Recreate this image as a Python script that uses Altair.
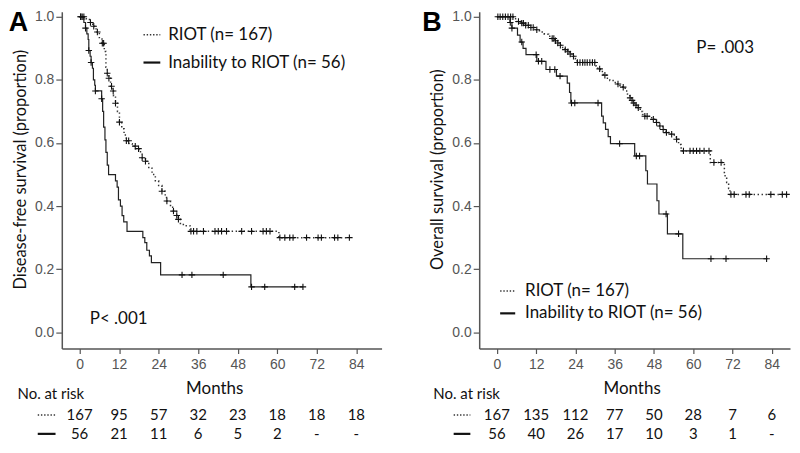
import altair as alt
import pandas as pd

MONTHS = [0, 12, 24, 36, 48, 60, 72, 84]

# ---------------- Panel A : disease-free survival ----------------
A_RIOT_T = [0, 2.0, 3.0, 4.0, 5.0, 6.0, 6.8, 7.5, 8.0, 8.4, 8.9, 9.4, 9.8, 10.3, 10.9, 11.5, 12.1,
            12.8, 13.5, 14.2, 15.0, 16.0, 17.0, 18.0, 19.0, 20.0, 21.0, 22.0, 23.0, 24.0, 25.0, 26.0,
            26.4, 27.6, 28.5, 29.5, 30.0, 30.6, 31.5, 33.5, 60.5]
A_RIOT_S = [1.0, 0.994, 0.982, 0.970, 0.952, 0.930, 0.916, 0.890, 0.840, 0.821, 0.805, 0.780, 0.765,
            0.750, 0.726, 0.700, 0.666, 0.645, 0.625, 0.607, 0.598, 0.590, 0.582, 0.572, 0.553, 0.542,
            0.520, 0.500, 0.480, 0.465, 0.447, 0.430, 0.416, 0.396, 0.384, 0.370, 0.358, 0.345, 0.338,
            0.320, 0.300]
A_RIOT_END = 82.0
A_RIOT_CENS = [0.3, 0.8, 1.3, 3.3, 4.3, 5.4, 6.9, 7.3, 8.4, 8.9, 9.7, 10.2, 10.9, 12.1, 14.2, 14.9,
               16.9, 17.9, 19.0, 20.0, 25.0, 26.5, 28.5, 29.5, 30.0, 33.8, 34.6, 35.6, 37.6, 41.1,
               42.1, 43.1, 44.6, 49.2, 52.2, 55.7, 56.7, 57.8, 60.8, 62.3, 63.8, 64.8, 68.9, 72.4,
               73.4, 77.4, 78.4, 81.9]

A_INAB_T = [0, 1.3, 1.8, 2.2, 2.6, 2.8, 3.2, 3.5, 3.9, 4.2, 4.6, 4.8, 6.7, 7.0, 7.3, 7.7, 8.0, 8.4,
            8.8, 10.9, 11.4, 11.8, 12.4, 12.9, 13.4, 14.4, 19.2, 19.8, 20.4, 21.2, 21.8, 24.6, 52.0]
A_INAB_S = [1.0, 0.982, 0.964, 0.946, 0.928, 0.893, 0.875, 0.855, 0.837, 0.800, 0.783, 0.765, 0.740,
            0.700, 0.650, 0.610, 0.570, 0.530, 0.500, 0.480, 0.460, 0.420, 0.400, 0.370, 0.350, 0.320,
            0.300, 0.284, 0.260, 0.242, 0.221, 0.182, 0.144]
A_INAB_END = 67.8
A_INAB_CENS = [0.4, 1.8, 2.8, 3.5, 4.8, 6.7, 31.1, 34.1, 43.6, 52.2, 56.2, 65.3, 67.8]

A_RISK_RIOT = ["167", "95", "57", "32", "23", "18", "18", "18"]
A_RISK_INAB = ["56", "21", "11", "6", "5", "2", "-", "-"]

# ---------------- Panel B : overall survival ----------------
B_RIOT_T = [0, 5.0, 6.0, 7.5, 8.5, 10.0, 11.5, 13.0, 14.5, 15.8, 16.7, 17.7, 18.5, 19.3, 20.1, 20.8,
            21.6, 22.3, 23.3, 24.0, 24.5, 30.2, 30.8, 31.6, 32.5, 33.5, 34.5, 35.5, 36.5, 37.5, 38.5,
            39.2, 39.9, 40.6, 41.2, 41.6, 42.4, 43.1, 43.8, 44.5, 45.1, 46.5, 47.7, 48.7, 49.7, 50.7,
            51.7, 53.3, 54.2, 54.8, 55.5, 56.3, 65.2, 69.5, 70.2, 70.8, 71.2]
B_RIOT_S = [1.0, 0.994, 0.985, 0.980, 0.973, 0.966, 0.959, 0.952, 0.945, 0.938, 0.931, 0.924, 0.917,
            0.910, 0.903, 0.896, 0.889, 0.882, 0.875, 0.866, 0.855, 0.845, 0.835, 0.827, 0.815, 0.805,
            0.798, 0.792, 0.787, 0.782, 0.777, 0.765, 0.755, 0.743, 0.735, 0.727, 0.720, 0.712, 0.700,
            0.690, 0.685, 0.680, 0.675, 0.665, 0.654, 0.643, 0.633, 0.628, 0.620, 0.612, 0.595, 0.575,
            0.538, 0.496, 0.475, 0.456, 0.437]
B_RIOT_END = 88.5
B_RIOT_CENS = [0.3, 1.0, 1.8, 2.6, 3.4, 4.2, 4.9, 6.6, 7.6, 8.1, 8.8, 9.6, 10.4, 11.1, 12.2, 16.9,
               17.4, 17.9, 18.6, 19.4, 20.9, 21.7, 22.4, 23.4, 24.6, 25.4, 26.2, 26.9, 27.6, 28.4,
               29.2, 29.9, 31.4, 33.0, 37.0, 38.6, 40.7, 41.3, 41.8, 42.5, 43.2, 45.2, 45.9, 47.8,
               48.8, 49.8, 50.8, 51.8, 53.4, 54.9, 57.0, 59.0, 60.0, 61.0, 62.0, 63.3, 64.8, 66.3,
               68.5, 71.5, 72.5, 76.1, 77.1, 83.7, 87.2, 88.5]

B_INAB_T = [0, 4.0, 4.6, 6.3, 7.1, 8.0, 8.9, 12.2, 15.0, 18.2, 21.5, 22.2, 22.6, 32.0, 32.5, 33.2,
            34.0, 34.7, 42.1, 45.5, 46.0, 48.9, 49.5, 52.1, 56.8]
B_INAB_S = [1.0, 0.982, 0.964, 0.942, 0.920, 0.900, 0.880, 0.859, 0.833, 0.812, 0.790, 0.760, 0.727,
            0.685, 0.664, 0.643, 0.620, 0.598, 0.559, 0.512, 0.470, 0.417, 0.375, 0.312, 0.233]
B_INAB_END = 82.7
B_INAB_CENS = [4.1, 4.6, 7.6, 12.0, 12.7, 13.7, 16.2, 17.7, 19.3, 22.8, 23.8, 30.9, 37.5, 42.6, 43.6,
               51.7, 55.5, 65.4, 70.0, 82.4]

B_RISK_RIOT = ["167", "135", "112", "77", "50", "28", "7", "6"]
B_RISK_INAB = ["56", "40", "26", "17", "10", "3", "1", "-"]

LEGEND_LABELS = ["RIOT (n= 167)", "Inability to RIOT (n= 56)"]

# ---------------- helpers ----------------
TXT = "Lato"
NUM = "Liberation Sans"
Y0, Y1 = -0.0515, 1.0158
H = 338
PLUS = "M-1,0L1,0M0,-1L0,1"
ROW_HDR, ROW_1, ROW_2 = -0.196, -0.262, -0.322


def surv_at(ts, ss, t):
    v = ss[0]
    for ti, si in zip(ts, ss):
        if ti <= t + 1e-9:
            v = si
        else:
            break
    return v


def curve_df(ts, ss, end):
    return pd.DataFrame({"t": list(ts) + [end], "s": list(ss) + [ss[-1]]})


def cens_df(ts, ss, cens):
    return pd.DataFrame({"t": cens, "s": [surv_at(ts, ss, c) for c in cens]})


def panel(width, xmax, ytitle, riot, inab, risk_riot, risk_inab, letter, letter_x,
          pval, pval_xy, leg, marker_x, hdr_x):
    xs = alt.Scale(domain=[-5.4, xmax], nice=False, zero=False)
    ys = alt.Scale(domain=[Y0, Y1], nice=False, zero=False)

    xaxis = alt.Axis(values=MONTHS, title="Months", grid=False, tickSize=5, labelPadding=4,
                     titlePadding=9, titleX=153, labelFont=NUM, labelFontSize=14, labelColor="#555",
                     titleFont=TXT, titleFontSize=17, titleFontWeight="normal", titleColor="#111",
                     domainColor="#555", domainWidth=1.5, tickColor="#555", tickWidth=1.2)
    yaxis = alt.Axis(values=[0, 0.2, 0.4, 0.6, 0.8, 1.0], format=".1f", title=ytitle, grid=False,
                     tickSize=6, labelPadding=2, titlePadding=6, titleY=158, labelFont=NUM,
                     labelFontSize=14, labelColor="#555", titleFont=TXT, titleFontSize=16.5,
                     titleFontWeight="normal", titleColor="#111", domainColor="#555",
                     domainWidth=1.5, tickColor="#555", tickWidth=1.2)

    def X(f):
        return alt.X(f, type="quantitative", scale=xs, axis=xaxis)

    def Y(f):
        return alt.Y(f, type="quantitative", scale=ys, axis=yaxis)

    rt, rs, rend, rc = riot
    it, is_, iend, ic = inab

    riot_line = alt.Chart(curve_df(rt, rs, rend)).mark_line(
        interpolate="step-after", color="#333", strokeWidth=1.5, strokeDash=[1.4, 2.6]
    ).encode(x=X("t"), y=Y("s"))
    inab_line = alt.Chart(curve_df(it, is_, iend)).mark_line(
        interpolate="step-after", color="#222", strokeWidth=1.2
    ).encode(x=X("t"), y=Y("s"))
    cens = alt.Chart(pd.concat([cens_df(rt, rs, rc), cens_df(it, is_, ic)])).mark_point(
        shape=PLUS, size=42, filled=False, strokeWidth=1.1, color="#111", opacity=1
    ).encode(x=X("t"), y=Y("s"))

    # legend
    lx1, lx2, ly1, ly2, ltx = leg
    leg_dot = alt.Chart(pd.DataFrame({"t": [lx1], "t2": [lx2], "s": [ly1]})).mark_rule(
        color="#333", strokeWidth=1.5, strokeDash=[1.4, 1.8]).encode(x=X("t"), x2="t2", y=Y("s"))
    leg_sol = alt.Chart(pd.DataFrame({"t": [lx1], "t2": [lx2], "s": [ly2]})).mark_rule(
        color="#111", strokeWidth=2.2).encode(x=X("t"), x2="t2", y=Y("s"))
    leg_txt = alt.Chart(pd.DataFrame({"t": [ltx, ltx], "s": [ly1, ly2], "label": LEGEND_LABELS})).mark_text(
        align="left", baseline="middle", font=TXT, fontSize=17, color="#111"
    ).encode(x=X("t"), y=Y("s"), text="label:N")

    ptxt = alt.Chart(pd.DataFrame({"t": [pval_xy[0]], "s": [pval_xy[1]], "label": [pval]})).mark_text(
        align="left", baseline="middle", font=TXT, fontSize=17, color="#111"
    ).encode(x=X("t"), y=Y("s"), text="label:N")

    let = alt.Chart(pd.DataFrame({"t": [letter_x], "s": [Y1 + 0.006], "label": [letter]})).mark_text(
        align="left", baseline="top", font=NUM, fontSize=27, fontWeight="bold", color="#000"
    ).encode(x=X("t"), y=Y("s"), text="label:N")

    # number-at-risk table
    hdr = alt.Chart(pd.DataFrame({"t": [hdr_x], "s": [ROW_HDR], "label": ["No. at risk"]})).mark_text(
        align="left", baseline="middle", font=TXT, fontSize=15, color="#111"
    ).encode(x=X("t"), y=Y("s"), text="label:N")
    tab = alt.Chart(pd.DataFrame({
        "t": MONTHS + MONTHS,
        "s": [ROW_1] * len(MONTHS) + [ROW_2] * len(MONTHS),
        "label": risk_riot + risk_inab,
    })).mark_text(align="center", baseline="middle", font=TXT, fontSize=15, color="#111").encode(
        x=X("t"), y=Y("s"), text="label:N")
    mk_dot = alt.Chart(pd.DataFrame({"t": [marker_x[0]], "t2": [marker_x[1]], "s": [ROW_1]})).mark_rule(
        color="#333", strokeWidth=1.5, strokeDash=[1.4, 1.8]).encode(x=X("t"), x2="t2", y=Y("s"))
    mk_sol = alt.Chart(pd.DataFrame({"t": [marker_x[0]], "t2": [marker_x[1]], "s": [ROW_2]})).mark_rule(
        color="#111", strokeWidth=2.2).encode(x=X("t"), x2="t2", y=Y("s"))

    return alt.layer(riot_line, inab_line, cens, leg_dot, leg_sol, leg_txt, ptxt, let,
                     hdr, tab, mk_dot, mk_sol).properties(width=width, height=H)


panel_a = panel(
    321, 91.67, "Disease-free survival (proportion)",
    (A_RIOT_T, A_RIOT_S, A_RIOT_END, A_RIOT_CENS),
    (A_INAB_T, A_INAB_S, A_INAB_END, A_INAB_CENS),
    A_RISK_RIOT, A_RISK_INAB, "A", -21.47,
    "P< .001", (3.1, 0.042), (19.4, 24.5, 0.943, 0.855, 26.9), (-12.7, -7.3), -18.84)

panel_b = panel(
    312, 89.55, "Overall survival (proportion)",
    (B_RIOT_T, B_RIOT_S, B_RIOT_END, B_RIOT_CENS),
    (B_INAB_T, B_INAB_S, B_INAB_END, B_INAB_CENS),
    B_RISK_RIOT, B_RISK_INAB, "B", -22.8,
    "P= .003", (60.9, 0.90), (1.0, 5.6, 0.131, 0.06, 8.6), (-13.2, -8.1), -19.4)

chart = alt.hconcat(panel_a, panel_b, spacing=40).properties(
    padding=0, background="white"
).configure_view(stroke=None)

chart.save("out.html", embed_options={"renderer": "svg", "actions": False})
